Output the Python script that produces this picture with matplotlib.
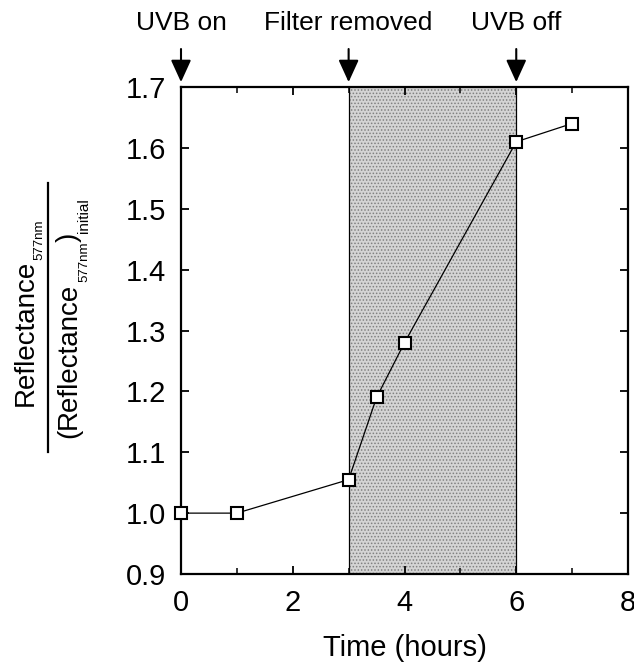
import matplotlib
matplotlib.use("Agg")
import matplotlib.pyplot as plt
from matplotlib.lines import Line2D
from matplotlib.ticker import MultipleLocator
from matplotlib.transforms import IdentityTransform

plt.rcParams['font.family'] = ['Liberation Sans', 'DejaVu Sans']
plt.rcParams['hatch.linewidth'] = 0.7

# data
time_h = [0, 1, 3, 3.5, 4, 6, 7]
reflectance = [1.0, 1.0, 1.055, 1.19, 1.28, 1.61, 1.64]
shade_start, shade_end = 3, 6
events = ["UVB on", "Filter removed", "UVB off"]
event_times = [0, 3, 6]
x_ticks = [0, 2, 4, 6, 8]
y_ticks = [0.9, 1.0, 1.1, 1.2, 1.3, 1.4, 1.5, 1.6, 1.7]

W, H = 634, 663
fig = plt.figure(figsize=(W / 100, H / 100), dpi=100)
ax = fig.add_axes([181 / W, 1 - 574 / H, (628 - 181) / W, (574 - 87) / H])

ax.axvspan(shade_start, shade_end, facecolor='#d4d4d4', edgecolor='#808080',
           hatch='.....', linewidth=0, zorder=1)
ax.axvline(shade_start, color='black', lw=0.9, zorder=2)
ax.axvline(shade_end, color='black', lw=0.9, zorder=2)

ax.plot(time_h, reflectance, color='black', lw=0.9, marker='s', ms=8.5,
        mfc='white', mec='black', mew=1.5, zorder=3, clip_on=False)

ax.set_xlim(0, 8)
ax.set_ylim(0.9, 1.7)
ax.set_xticks(x_ticks)
ax.set_xticklabels([str(t) for t in x_ticks])
ax.set_yticks(y_ticks)
ax.set_yticklabels([f"{v:.1f}" for v in y_ticks])
ax.xaxis.set_minor_locator(MultipleLocator(1))
ax.tick_params(which='both', direction='in', top=True, right=True, labelsize=21)
ax.tick_params(which='major', length=6, width=1.3)
ax.tick_params(which='minor', length=4, width=1.1)
ax.tick_params(axis='y', pad=11)
ax.tick_params(axis='x', pad=11)
for s in ax.spines.values():
    s.set_linewidth(1.6)

ax.set_xlabel("Time (hours)", fontsize=21, labelpad=12)

# event arrows and labels
for name, t in zip(events, event_times):
    ax.annotate('', xy=(t, 1.010), xycoords=('data', 'axes fraction'),
                xytext=(t, 1.078), textcoords=('data', 'axes fraction'),
                arrowprops=dict(arrowstyle='-|>,head_length=0.68,head_width=0.31',
                                mutation_scale=20, color='black', lw=1.5,
                                shrinkA=0, shrinkB=0),
                annotation_clip=False)
    ax.text(t, 1.131, name, transform=ax.get_xaxis_transform(), ha='center',
            va='center', fontsize=19)

# y-label drawn as a fraction with real subscripts
renderer = fig.canvas.get_renderer()


def rotated_label(pieces, x_base, y_center_img):
    texts = []
    total = 0.0
    for s, size, shift in pieces:
        t = fig.text(0, 0, s, fontsize=size, rotation=90, rotation_mode='anchor',
                     ha='left', va='baseline', transform=IdentityTransform())
        length = t.get_window_extent(renderer).height
        texts.append((t, shift, total))
        total += length
    y0 = (H - y_center_img) - total / 2
    for t, shift, off in texts:
        t.set_position((x_base + shift, y0 + off))


num_text = "Reflectance"
sub_text = "577nm"
init_text = "initial"
rotated_label([(num_text, 20, 0), (sub_text, 9.5, 9)], 33, 313)
rotated_label([("(", 20, 0), (num_text, 20, 0), (sub_text, 9.5, 11), (")", 20, 0),
               (init_text, 11, 12)], 76, 318)
fig.add_artist(Line2D([48 / W, 48 / W], [1 - 183 / H, 1 - 452 / H],
                      transform=fig.transFigure, color='black', lw=1.6))

fig.savefig("out.png", dpi=100)
